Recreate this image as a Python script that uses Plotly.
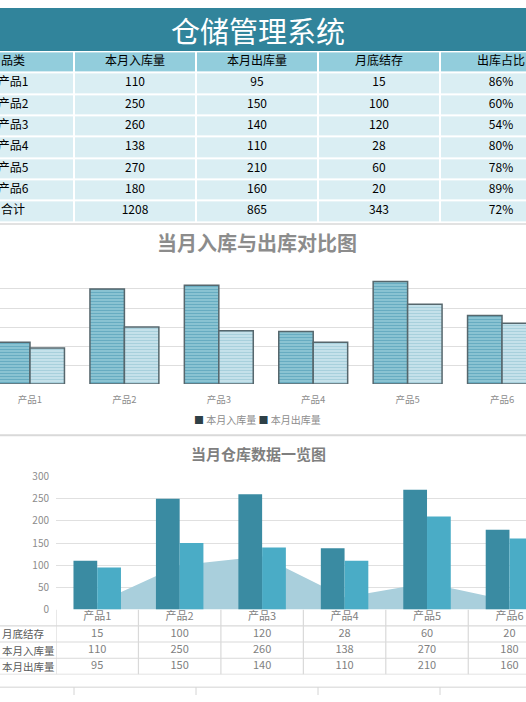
import plotly.graph_objects as go

# ---- data ----
products = ["产品1", "产品2", "产品3", "产品4", "产品5", "产品6"]
stock_in = [110, 250, 260, 138, 270, 180]
stock_out = [95, 150, 140, 110, 210, 160]
stock_end = [15, 100, 120, 28, 60, 20]

header = ["品类", "本月入库量", "本月出库量", "月底结存", "出库占比"]
row_names2 = ["月底结存", "本月入库量", "本月出库量"]
total_name = "合计"

W, H = 526, 702
FONT = "Noto Sans CJK SC"


def py(p):
    # pixel from top -> paper y
    return 1 - p / H


ratio = ["%d%%" % round(o * 100.0 / i) for i, o in zip(stock_in, stock_out)]
tot_in, tot_out, tot_end = sum(stock_in), sum(stock_out), sum(stock_end)
tot_ratio = "%d%%" % round(tot_out * 100.0 / tot_in)

table_rows = [header]
for k in range(len(products)):
    table_rows.append([products[k], str(stock_in[k]), str(stock_out[k]),
                       str(stock_end[k]), ratio[k]])
table_rows.append([total_name, str(tot_in), str(tot_out), str(tot_end), tot_ratio])

n_rows = len(table_rows)
n_cols = len(header)
idx = list(range(len(products)))

fig = go.Figure()

# ---- top table (heatmap cells + text) ----
z = [[1] * n_cols] + [[0] * n_cols for _ in range(n_rows - 1)]
fig.add_trace(go.Heatmap(
    z=z, x=list(range(n_cols)), y=list(range(n_rows)),
    colorscale=[[0, "#daeef3"], [1, "#92cddc"]], showscale=False,
    xgap=2, ygap=2, hoverinfo="skip", xaxis="x", yaxis="y"))
tx, ty, tt = [], [], []
for r, row in enumerate(table_rows):
    for c, val in enumerate(row):
        tx.append(c)
        ty.append(r)
        tt.append(val)
fig.add_trace(go.Scatter(
    x=tx, y=ty, text=tt, mode="text", hoverinfo="skip",
    textfont=dict(family=FONT, size=12, color="#000000"),
    xaxis="x", yaxis="y", showlegend=False))

# ---- chart 1: 入库 vs 出库 ----
bw1 = 0.365
fig.add_trace(go.Bar(
    x=idx, y=stock_in, width=bw1, offset=-bw1, name="本月入库量",
    marker=dict(color="#8dc5d4",
                pattern=dict(shape="-", fgcolor="#3f93ad", bgcolor="#8dc5d4",
                             size=3, solidity=0.4),
                line=dict(color="#56676d", width=1.5)),
    xaxis="x2", yaxis="y2", showlegend=False, hoverinfo="skip"))
fig.add_trace(go.Bar(
    x=idx, y=stock_out, width=bw1, offset=0, name="本月出库量",
    marker=dict(color="#c8e3eb",
                pattern=dict(shape="-", fgcolor="#86bdcd", bgcolor="#c8e3eb",
                             size=3, solidity=0.4),
                line=dict(color="#56676d", width=1.5)),
    xaxis="x2", yaxis="y2", showlegend=False, hoverinfo="skip"))

# ---- chart 2: 仓库数据一览 ----
bw2 = 0.288
fig.add_trace(go.Scatter(
    x=idx, y=stock_end, mode="lines", fill="tozeroy",
    line=dict(width=0, color="#a9cfdc"), fillcolor="#a9cfdc",
    xaxis="x3", yaxis="y3", showlegend=False, hoverinfo="skip", zorder=0))
fig.add_trace(go.Bar(
    x=idx, y=stock_in, width=bw2, offset=-bw2, marker_color="#3a8ba2",
    marker_line_width=0, xaxis="x3", yaxis="y3", showlegend=False,
    hoverinfo="skip", zorder=1))
fig.add_trace(go.Bar(
    x=idx, y=stock_out, width=bw2, offset=0, marker_color="#4aacc6",
    marker_line_width=0, xaxis="x3", yaxis="y3", showlegend=False,
    hoverinfo="skip", zorder=1))

# data table under chart 2
t2x, t2y, t2t = [], [], []
for k in idx:
    t2x += [k, k, k, k]
    t2y += [0, 1, 2, 3]
    t2t += [products[k], str(stock_end[k]), str(stock_in[k]), str(stock_out[k])]
fig.add_trace(go.Scatter(
    x=t2x, y=t2y, text=t2t, mode="text", hoverinfo="skip",
    textfont=dict(family=FONT, size=11, color="#7f7f7f"),
    xaxis="x4", yaxis="y4", showlegend=False))

shapes = []
annotations = []

# title bar
shapes.append(dict(type="rect", xref="paper", yref="paper", x0=0, x1=1,
                   y0=py(44), y1=1, fillcolor="#31849b", line_width=0, layer="below"))
annotations.append(dict(text="仓储管理系统", xref="paper", yref="paper",
                        x=258 / W, y=py(22), xanchor="center", yanchor="middle",
                        showarrow=False,
                        font=dict(family=FONT, size=29, color="white")))

# chart 1 frame, title, legend
shapes.append(dict(type="line", xref="paper", yref="paper", x0=0, x1=1,
                   y0=py(220.7), y1=py(220.7), line=dict(color="#d9d9d9", width=1.5)))
shapes.append(dict(type="line", xref="paper", yref="paper", x0=0, x1=1,
                   y0=py(436.7), y1=py(436.7), line=dict(color="#d9d9d9", width=2)))
annotations.append(dict(text="<b>当月入库与出库对比图</b>", xref="paper", yref="paper",
                        x=257 / W, y=py(239.5), xanchor="center", yanchor="middle",
                        showarrow=False,
                        font=dict(family=FONT, size=20, color="#8c8c8c")))
sq = "<span style='color:#2e4047'>■</span>"
annotations.append(dict(text=sq + " 本月入库量 " + sq + " 本月出库量",
                        xref="paper", yref="paper", x=257 / W, y=py(420),
                        xanchor="center", yanchor="middle", showarrow=False,
                        font=dict(family=FONT, size=10, color="#8c8c8c")))

# chart 2 title
annotations.append(dict(text="<b>当月仓库数据一览图</b>", xref="paper", yref="paper",
                        x=258 / W, y=py(455), xanchor="center", yanchor="middle",
                        showarrow=False,
                        font=dict(family=FONT, size=15, color="#7f7f7f")))

# chart 2 data table lines and row labels
line_c = dict(color="#d9d9d9", width=1.2)
for k in range(len(products) + 1):
    shapes.append(dict(type="line", xref="x4", yref="y4", x0=k - 0.5, x1=k - 0.5,
                       y0=-0.5, y1=3.5, line=line_c))
for r in range(4):
    shapes.append(dict(type="line", xref="paper", yref="y4", x0=0, x1=1,
                       y0=r + 0.5, y1=r + 0.5, line=line_c))
for r, name in enumerate(row_names2):
    annotations.append(dict(text=name, xref="paper", yref="y4", x=0, y=r + 1,
                            xanchor="left", yanchor="middle", showarrow=False,
                            font=dict(family=FONT, size=10.5, color="#595959")))

# sheet grid below chart 2
shapes.append(dict(type="line", xref="paper", yref="paper", x0=0, x1=1,
                   y0=py(694), y1=py(694), line=dict(color="#d4d4d4", width=1)))
for xp in [74, 196, 318, 440]:
    shapes.append(dict(type="line", xref="paper", yref="paper", x0=xp / W, x1=xp / W,
                       y0=0, y1=py(694), line=dict(color="#d4d4d4", width=1)))

hidden = dict(visible=False, fixedrange=True)
fig.update_layout(
    width=W, height=H, margin=dict(l=0, r=0, t=0, b=0),
    paper_bgcolor="white", plot_bgcolor="white",
    barmode="overlay", showlegend=False,
    font=dict(family=FONT),
    shapes=shapes, annotations=annotations,
    xaxis=dict(domain=[0, 1], range=[-13 / 122, 513 / 122], **hidden),
    yaxis=dict(domain=[py(218.7), py(44.3)], range=[n_rows - 0.5, -0.5], **hidden),
    xaxis2=dict(domain=[0, 1], range=[-0.3178, 5.254], anchor="y2",
                tickvals=idx, ticktext=products, ticks="", showgrid=False,
                showline=True, linecolor="#bfbfbf", linewidth=2,
                tickfont=dict(family=FONT, size=9.5, color="#8c8c8c"),
                ticklabelstandoff=6, zeroline=False),
    yaxis2=dict(domain=[py(384.3), py(267.7)], range=[0, 300], dtick=50,
                anchor="x2", showticklabels=False, gridcolor="#dedede",
                gridwidth=1.3, zeroline=False),
    xaxis3=dict(domain=[56 / W, 1], range=[-0.5, (526 - 98) / 82.3], anchor="y3",
                showticklabels=False, showgrid=False, zeroline=False,
                showline=True, linecolor="#d9d9d9", linewidth=1.2),
    yaxis3=dict(domain=[py(614.7), py(478.7)], range=[0, 300], dtick=50,
                anchor="x3", gridcolor="#e0e0e0", gridwidth=1.2, zeroline=False,
                tickfont=dict(family=FONT, size=10, color="#8c8c8c"),
                ticklabelstandoff=6),
    xaxis4=dict(domain=[56 / W, 1], range=[-0.5, (526 - 98) / 82.3], anchor="y4",
                **hidden),
    yaxis4=dict(domain=[py(681), py(614.7)], range=[3.5, -0.5], anchor="x4",
                **hidden),
)

# the page body has a default 8px margin; drop it so the figure fills the window
fig.write_html("out.html", config={"displayModeBar": False},
               post_script="document.body.style.margin='0';"
                           "document.body.style.overflow='hidden';")
